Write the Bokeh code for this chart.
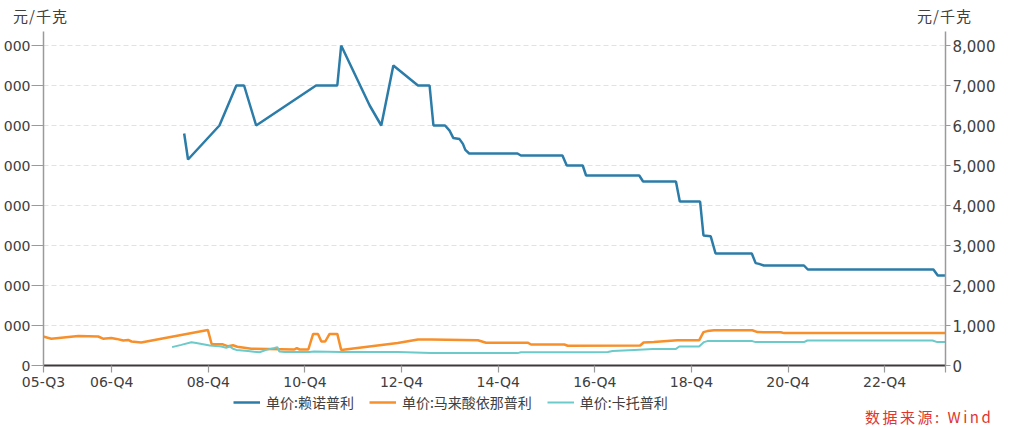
from bokeh.plotting import figure
from bokeh.layouts import column
from bokeh.models import (Range1d, LinearAxis, FixedTicker, NumeralTickFormatter,
                          Legend, LegendItem, Div)
from bokeh.embed import file_html
from bokeh.resources import INLINE

# ---- axis ticks ----
x_start, x_end = 2005.588, 2024.26
tick_pos = [x_start, 2007.0, 2009.0, 2011.0, 2013.0, 2015.0, 2017.0, 2019.0, 2021.0, 2023.0, x_end]
tick_labels = ["05-Q3", "06-Q4", "08-Q4", "10-Q4", "12-Q4", "14-Q4", "16-Q4", "18-Q4", "20-Q4", "22-Q4", ""]
y_ticks = [0, 1000, 2000, 3000, 4000, 5000, 6000, 7000, 8000]
left_labels = ["0", "000", "000", "000", "000", "000", "000", "000", "000"]
unit_text = "元/千克"
source_text = "数据来源: Wind"

# ---- series (x in fractional years, y in 元/千克) ----
lis_x = [2008.50, 2008.58, 2009.23, 2009.58, 2009.74, 2009.99, 2011.23, 2011.67, 2011.75,
         2012.34, 2012.58, 2012.83, 2013.34, 2013.58, 2013.66, 2013.90, 2013.99, 2014.07,
         2014.20, 2014.27, 2014.32, 2014.40, 2015.40, 2015.47, 2016.33, 2016.42, 2016.75,
         2016.82, 2017.92, 2018.00, 2018.68, 2018.76, 2019.18, 2019.25, 2019.40, 2019.50,
         2020.25, 2020.33, 2020.40, 2020.50, 2021.33, 2021.41, 2024.01, 2024.10, 2024.26]
lis_y = [5800, 5150, 6000, 7000, 7000, 6000, 7000, 7000, 8000,
         6500, 6000, 7500, 7000, 7000, 6000, 6000, 5880, 5690,
         5660, 5540, 5390, 5300, 5300, 5250, 5250, 5000, 5000,
         4750, 4750, 4600, 4600, 4100, 4100, 3250, 3230, 2800,
         2800, 2560, 2540, 2500, 2500, 2400, 2400, 2250, 2250]

ena_x = [2005.58, 2005.75, 2006.31, 2006.72, 2006.82, 2006.99, 2007.10, 2007.24, 2007.34,
         2007.41, 2007.61, 2008.99, 2009.07, 2009.30, 2009.41, 2009.51, 2009.60, 2009.89,
         2010.78, 2010.83, 2010.89, 2011.07, 2011.17, 2011.27, 2011.34, 2011.42, 2011.51,
         2011.67, 2011.75, 2012.92, 2013.34, 2013.61, 2014.58, 2014.75, 2015.61, 2015.68,
         2016.37, 2016.44, 2017.94, 2018.01, 2018.22, 2018.71, 2019.16, 2019.25, 2019.33,
         2019.47, 2020.26, 2020.37, 2020.85, 2020.92, 2024.26]
ena_y = [725, 670, 740, 725, 670, 690, 665, 625, 640,
         600, 575, 890, 530, 530, 480, 505, 470, 420,
         400, 435, 400, 400, 790, 790, 600, 600, 790,
         790, 390, 560, 650, 650, 630, 570, 570, 525,
         525, 495, 500, 575, 585, 630, 630, 835, 860,
         880, 880, 835, 830, 810, 810]

cap_x = [2008.25, 2008.44, 2008.65, 2008.75, 2009.03, 2009.27, 2009.37, 2009.44, 2009.51,
         2009.58, 2009.82, 2010.06, 2010.20, 2010.37, 2010.43, 2010.47, 2010.58, 2011.09,
         2011.19, 2011.75, 2012.92, 2013.61, 2015.40, 2015.47, 2016.92, 2017.27, 2017.37,
         2017.82, 2018.20, 2018.68, 2018.75, 2019.16, 2019.26, 2019.33, 2020.26, 2020.33,
         2021.33, 2021.40, 2023.99, 2024.09, 2024.26]
cap_y = [460, 515, 580, 560, 500, 475, 440, 475, 420,
         390, 360, 330, 390, 440, 460, 350, 335, 335,
         350, 340, 335, 310, 310, 330, 330, 335, 360,
         390, 415, 415, 475, 475, 585, 610, 610, 585,
         585, 625, 625, 585, 585]

series_names = ["单价:赖诺普利", "单价:马来酸依那普利", "单价:卡托普利"]
series_colors = ["#2b7ca8", "#f7902b", "#6ccaca"]
series_widths = [2.5, 2.5, 2.0]
all_x = [lis_x, ena_x, cap_x]
all_y = [lis_y, ena_y, cap_y]

LATIN = "DejaVu Sans"
CJK = "Noto Sans CJK SC"
TXT = "#404040"
W = 1016

# ---- top row: unit labels ----
span = ("<span style=\"position:absolute;display:block;left:{x}px;top:{t}px;height:15px;"
        "line-height:15px;letter-spacing:1px;overflow:visible;"
        "font-family:'Noto Sans CJK SC';font-size:15px;color:#404040;white-space:nowrap\">{s}</span>")
top = Div(width=W, height=31, margin=0,
          text="<div style=\"position:relative;width:1016px;height:31px\">"
               + span.format(x=13, t=8, s=unit_text) + span.format(x=917, t=8, s=unit_text)
               + "</div>")

# ---- main plot ----
p = figure(width=W, height=361, x_range=Range1d(x_start, x_end), y_range=Range1d(0, 8350),
           output_backend="svg", toolbar_location=None,
           min_border_left=42, min_border_right=71, min_border_top=0, min_border_bottom=27)
p.outline_line_color = None

for xs, ys, c, w in zip(all_x, all_y, series_colors, series_widths):
    p.line(xs, ys, line_color=c, line_width=w)

xa = p.xaxis[0]
xa.ticker = FixedTicker(ticks=tick_pos)
xa.major_label_overrides = {v: l for v, l in zip(tick_pos, tick_labels)}
xa.axis_line_color = "#3e3a3a"
xa.axis_line_width = 2
xa.major_tick_line_color = "#9a9a9a"
xa.major_tick_line_width = 1.2
xa.major_tick_in = 0
xa.major_tick_out = 7
xa.minor_tick_line_color = None
xa.major_label_standoff = 1
xa.major_label_text_font = LATIN
xa.major_label_text_font_size = "14px"
xa.major_label_text_color = TXT

ya = p.yaxis[0]
ya.ticker = FixedTicker(ticks=y_ticks)
ya.major_label_overrides = {v: l for v, l in zip(y_ticks, left_labels)}
ya.axis_line_color = "#9a9a9a"
ya.axis_line_width = 1.5
ya.major_tick_line_color = "#9a9a9a"
ya.major_tick_in = 0
ya.major_tick_out = 12
ya.minor_tick_line_color = None
ya.major_label_standoff = 1
ya.major_label_text_font = LATIN
ya.major_label_text_font_size = "14px"
ya.major_label_text_color = TXT

ra = LinearAxis(ticker=FixedTicker(ticks=y_ticks), formatter=NumeralTickFormatter(format="0,0"))
ra.axis_line_color = "#9a9a9a"
ra.axis_line_width = 1.5
ra.major_tick_line_color = "#9a9a9a"
ra.major_tick_in = 0
ra.major_tick_out = 5
ra.minor_tick_line_color = None
ra.major_label_standoff = 2
ra.major_label_text_font = LATIN
ra.major_label_text_font_size = "15px"
ra.major_label_text_color = TXT
p.add_layout(ra, "right")

p.xgrid.visible = False
p.ygrid.ticker = FixedTicker(ticks=y_ticks[1:])
p.ygrid.grid_line_color = "#e2e2e2"
p.ygrid.grid_line_dash = "5 3"
p.ygrid.grid_line_width = 1

# ---- legend strip (frame aligned with the main plot) ----
leg = figure(width=W, height=20, x_range=Range1d(x_start, x_end), y_range=Range1d(0, 8350),
             output_backend="svg", toolbar_location=None, x_axis_type=None, y_axis_type=None,
             min_border_left=42, min_border_right=71, min_border_top=0, min_border_bottom=0)
leg.grid.visible = False
leg.outline_line_color = None
keys = []
for xs, ys, c, w in zip(all_x, all_y, series_colors, series_widths):
    keys.append(leg.line(xs, ys, line_color=c, line_width=w, visible=False))
legend = Legend(items=[LegendItem(label=n, renderers=[r]) for n, r in zip(series_names, keys)],
                location=(190, 0), orientation="horizontal",
                glyph_width=27, glyph_height=18, label_height=18, label_standoff=6, spacing=15,
                padding=0, margin=0, border_line_color=None, background_fill_alpha=0,
                inactive_fill_alpha=0,
                label_text_font=CJK, label_text_font_size="14px", label_text_color=TXT)
leg.add_layout(legend, "center")

# ---- bottom row: source ----
bot = Div(width=W, height=16, margin=0,
          text="<div style=\"position:relative;width:1016px;height:16px\">"
               "<span style=\"position:absolute;display:block;left:865px;top:-3px;height:15px;"
               "line-height:15px;letter-spacing:2.5px;overflow:visible;"
               "font-family:'Noto Sans CJK SC';font-size:15px;color:#e0362f;white-space:nowrap\">"
               + source_text + "</span></div>")

layout = column(top, p, leg, bot, spacing=0)
open("out.html", "w").write(file_html(layout, INLINE))
